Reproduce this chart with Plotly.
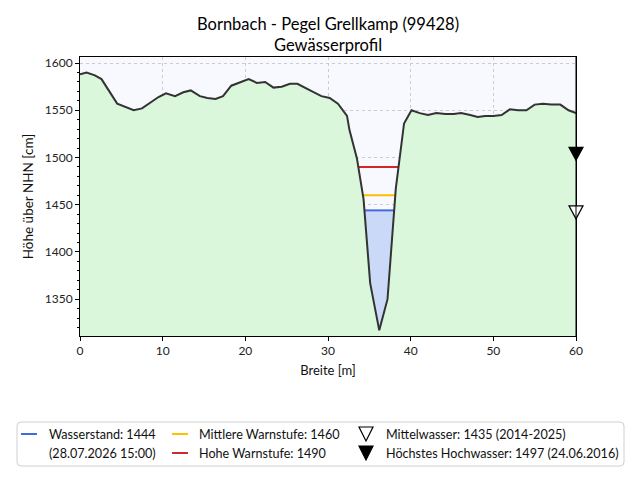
import numpy as np
import plotly.graph_objects as go

# ---------------- data ----------------
breite_m = [0.0, 0.8, 1.8, 2.6, 4.5, 5.4, 6.5, 7.5, 8.5, 9.5, 10.4, 11.5, 12.5, 13.4,
            14.5, 15.4, 16.4, 17.3, 18.3, 19.4, 20.4, 21.4, 22.4, 23.4, 24.4, 25.4,
            26.3, 27.6, 29.2, 30.2, 31.2, 32.3, 32.6, 33.5, 34.3, 35.1, 36.2, 37.2,
            38.2, 39.2, 40.1, 41.1, 42.1, 43.1, 44.2, 45.2, 46.1, 47.2, 48.1, 49.0,
            50.0, 51.0, 52.0, 53.0, 54.0, 55.0, 56.0, 57.0, 58.1, 59.1, 60.0]
hoehe_cm = [1588, 1590, 1587, 1583, 1557, 1554, 1550, 1552, 1558, 1564, 1568, 1565,
            1569, 1571, 1565, 1563, 1562, 1565, 1576, 1580, 1583, 1579, 1580, 1574,
            1575, 1578, 1578, 1572, 1565, 1563, 1557, 1544, 1529, 1499, 1456, 1367,
            1317, 1350, 1467, 1536, 1550, 1547, 1545, 1547, 1546, 1546, 1547, 1545,
            1543, 1544, 1544, 1545, 1551, 1550, 1550, 1556, 1557, 1556, 1556, 1550,
            1547]

wasserstand = 1444
mittlere_warnstufe = 1460
hohe_warnstufe = 1490
mittelwasser = 1435
hoechstes_hochwasser = 1497

title_lines = ["Bornbach - Pegel Grellkamp (99428)", "Gewässerprofil"]
legend_labels = {
    "ws": "Wasserstand: 1444",
    "ws_time": "(28.07.2026 15:00)",
    "mw_warn": "Mittlere Warnstufe: 1460",
    "hw_warn": "Hohe Warnstufe: 1490",
    "mw": "Mittelwasser: 1435 (2014-2025)",
    "hhw": "Höchstes Hochwasser: 1497 (24.06.2016)",
}
x_ticks = [0, 10, 20, 30, 40, 50, 60]
y_ticks = [1350, 1400, 1450, 1500, 1550, 1600]

# ---------------- helpers ----------------
X = np.array(breite_m, dtype=float)
Z = np.array(hoehe_cm, dtype=float)


def level_span(level):
    i0 = int(np.argmin(Z))
    i = i0
    while i > 0 and Z[i - 1] < level:
        i -= 1
    xl = X[i - 1] + (level - Z[i - 1]) * (X[i] - X[i - 1]) / (Z[i] - Z[i - 1])
    j = i0
    while j < len(Z) - 1 and Z[j + 1] < level:
        j += 1
    xr = X[j] + (level - Z[j]) * (X[j + 1] - X[j]) / (Z[j + 1] - Z[j])
    return xl, xr, i, j


FONT = "Lato"
W, H = 640, 480
PL, PR, PT, PB = 80, 576, 57, 336  # plot area in pixels


def px2x(px):
    return (px - PL) / (PR - PL)


def px2y(py):
    return (PB - py) / (PB - PT)


fig = go.Figure()

# ground
fig.add_trace(go.Scatter(x=breite_m, y=hoehe_cm, mode="lines", fill="tozeroy",
                         fillcolor="#daf7dc", line=dict(width=0), hoverinfo="skip",
                         showlegend=False))

# water body
xl, xr, i, j = level_span(wasserstand)
wx = [xl] + list(X[i:j + 1]) + [xr]
wz = [wasserstand] + list(Z[i:j + 1]) + [wasserstand]
fig.add_trace(go.Scatter(x=wx, y=wz, mode="lines", fill="toself", fillcolor="#c9d9f7",
                         line=dict(width=0), hoverinfo="skip", showlegend=False))

# level lines
for lvl, col in [(hohe_warnstufe, "#d62728"), (mittlere_warnstufe, "#ffbf00"),
                 (wasserstand, "#4169e1")]:
    a, b, _, _ = level_span(lvl)
    fig.add_trace(go.Scatter(x=[a, b], y=[lvl, lvl], mode="lines",
                             line=dict(color=col, width=2), showlegend=False))

# profile line
fig.add_trace(go.Scatter(x=breite_m, y=hoehe_cm, mode="lines",
                         line=dict(color="#333333", width=2), showlegend=False))

shapes = []
# markers at right edge (tip at level)
for lvl, fill in [(hoechstes_hochwasser, "black"), (mittelwasser, "white")]:
    shapes.append(dict(type="path", xref="paper", yref="y", xsizemode="pixel",
                       ysizemode="pixel", xanchor=1, yanchor=lvl,
                       path="M-7,13 L7,13 L0,0 Z", fillcolor=fill,
                       line=dict(color="black", width=1.2), layer="above"))
# right spine drawn over markers
shapes.append(dict(type="line", xref="paper", yref="paper", x0=1, x1=1, y0=0, y1=1,
                   line=dict(color="black", width=1), layer="above"))

# legend frame (rounded), pixel coords relative to figure top-left, y flipped
bx0, bx1, by0, by1, r = 17, 624, 422, 466, 4
pts = [("M", bx0 + r, by0), ("L", bx1 - r, by0), ("Q", bx1, by0), ("", bx1, by0 + r),
       ("L", bx1, by1 - r), ("Q", bx1, by1), ("", bx1 - r, by1), ("L", bx0 + r, by1),
       ("Q", bx0, by1), ("", bx0, by1 - r), ("L", bx0, by0 + r), ("Q", bx0, by0),
       ("", bx0 + r, by0)]
frame_path = " ".join(f"{c}{px},{-py}" for c, px, py in pts) + " Z"
shapes.append(dict(type="path", xref="paper", yref="paper", xsizemode="pixel",
                   ysizemode="pixel", xanchor=px2x(0), yanchor=px2y(0),
                   path=frame_path, fillcolor="white",
                   line=dict(color="#d0d0d0", width=1), layer="above"))

row1, row2 = 434, 453
# legend handles
for x0, x1, y, col in [(21, 37, row1, "#4169e1"), (172, 188, row1, "#ffbf00"),
                       (172, 188, row2, "#d62728")]:
    shapes.append(dict(type="line", xref="paper", yref="paper", x0=px2x(x0),
                       x1=px2x(x1), y0=px2y(y), y1=px2y(y),
                       line=dict(color=col, width=2), layer="above"))
for y, fill in [(row1, "white"), (row2, "black")]:
    shapes.append(dict(type="path", xref="paper", yref="paper", xsizemode="pixel",
                       ysizemode="pixel", xanchor=px2x(366), yanchor=px2y(y),
                       path="M-7,7 L7,7 L0,-7 Z", fillcolor=fill,
                       line=dict(color="black", width=1.2), layer="above"))

annotations = []
for x, y, key in [(47, row1, "ws"), (47, row2, "ws_time"), (197, row1, "mw_warn"),
                  (197, row2, "hw_warn"), (384, row1, "mw"), (384, row2, "hhw")]:
    annotations.append(dict(x=px2x(x), y=px2y(y), xref="paper", yref="paper",
                            text=legend_labels[key], showarrow=False, xanchor="left",
                            yanchor="middle", font=dict(family=FONT, size=12.6,
                                                        color="#111")))
# title lines
for line, y in zip(title_lines, [24, 45]):
    annotations.append(dict(x=px2x(328), y=px2y(y), xref="paper", yref="paper",
                            text=line, showarrow=False, xanchor="center",
                            yanchor="middle", borderpad=0,
                            font=dict(family=FONT, size=16.5, color="black")))

fig.update_layout(
    width=W, height=H,
    margin=dict(l=PL, r=W - PR, t=PT, b=H - PB),
    paper_bgcolor="white", plot_bgcolor="#f8f8ff",
    font=dict(family=FONT, size=12, color="#222"),
    shapes=shapes, annotations=annotations, showlegend=False,
)
fig.update_xaxes(range=[0, 60], tickvals=x_ticks, ticks="outside", ticklen=4,
                 tickcolor="black", showline=True, linecolor="black", linewidth=1,
                 mirror=True, showgrid=True, gridcolor="#cccccc", griddash="dot",
                 gridwidth=1, zeroline=False,
                 title=dict(text="Breite [m]", standoff=8,
                            font=dict(family=FONT, size=13, color="#111")),
                 tickfont=dict(family=FONT, size=12, color="#222"))
fig.update_yaxes(range=[1311, 1606.4], tickvals=y_ticks, ticks="outside", ticklen=4,
                 tickcolor="black", showline=True, linecolor="black", linewidth=1,
                 mirror=True, showgrid=True, gridcolor="#cccccc", griddash="dot",
                 gridwidth=1, zeroline=False,
                 minor=dict(dtick=10, tick0=1300, ticks="outside", ticklen=2,
                            tickcolor="black", showgrid=False),
                 title=dict(text="Höhe über NHN [cm]", standoff=8,
                            font=dict(family=FONT, size=13.5, color="#111")),
                 tickfont=dict(family=FONT, size=12, color="#222"))

fig.write_html("out.html")
